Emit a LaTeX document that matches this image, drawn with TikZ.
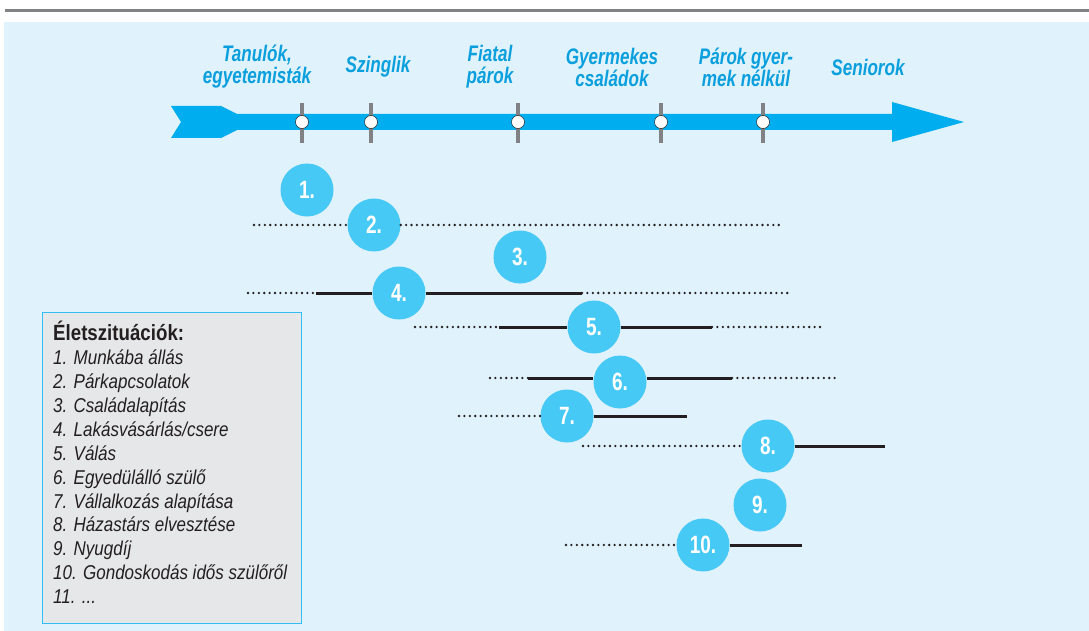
\documentclass[tikz,border=0pt]{standalone}
\usepackage{fontspec}
\usepackage{tikz}
\usetikzlibrary{positioning, calc}

\setmainfont{Liberation Sans}
\newfontfamily\condfont[FakeStretch=0.76]{Liberation Sans}
\newfontfamily\legfont[FakeStretch=0.85]{Liberation Sans}

\definecolor{bgblue}{HTML}{E0F2FC}
\definecolor{arrowblue}{HTML}{00AEEF}
\definecolor{dotblue}{HTML}{47C9F6}
\definecolor{lblblue}{HTML}{0A9FDD}
\definecolor{tickgray}{HTML}{808285}
\definecolor{boxgray}{HTML}{E6E7E8}
\definecolor{linedark}{HTML}{231F20}

\begin{document}
\begin{tikzpicture}[
  x=1pt, y=-1pt,
  phase/.style  = {font=\condfont\bfseries\itshape\fontsize{22.5}{22}\selectfont,
                   text=lblblue, align=center, inner sep=0pt},
  event/.style  = {circle, fill=dotblue, minimum size=53pt, inner sep=0pt,
                   text=white, font=\condfont\bfseries\fontsize{25}{25}\selectfont},
  tick/.style   = {draw=tickgray, line width=4pt},
  knot/.style   = {circle, draw=linedark, line width=0.5pt, fill=white,
                   minimum size=13pt, inner sep=0pt},
  maybe/.style  = {draw=linedark, line width=2.6pt, line cap=round,
                   dash pattern=on 0pt off 5.4pt},
  sure/.style   = {draw=linedark, line width=3pt},
  legbox/.style = {draw=arrowblue!80, line width=0.8pt, fill=boxgray,
                   minimum width=259pt, minimum height=311pt,
                   anchor=north west, inner sep=0pt},
]

\useasboundingbox (0,0) rectangle (1089,631);
\fill[bgblue] (4,22) rectangle (1089,631);
\draw[tickgray, line width=3pt] (5,11) -- (1089,11);

% timeline arrow
\fill[arrowblue] (171,106) -- (221,106) -- (237,114) -- (892,114) -- (892,102)
  -- (964,122) -- (892,142) -- (892,130) -- (237,130) -- (221,138)
  -- (171,138) -- (181,122) -- cycle;

\foreach \x/\name in {302/tan, 371/szi, 518/fia, 661/gye, 763/par} {
  \draw[tick] (\x,103) -- (\x,143);
  \node[knot] (k\name) at (\x,122) {};
}

\node[phase] (tanulok)  at (257,67) {Tanulók,\\egyetemisták};
\node[phase] (szinglik) at (378,67) {Szinglik};
\node[phase] (fiatal)   at (490,67) {Fiatal\\párok};
\node[phase] (gyermek)  at (612,67) {Gyermekes\\családok};
\node[phase] (parok)    at (746,67) {Párok gyer-\\mek nélkül};
\node[phase] (senior)   at (868,67) {Seniorok};

% life events
\coordinate (s2a) at (254,225); \coordinate (s2b) at (783,225);
\coordinate (s4a) at (248,293); \coordinate (s4b) at (316,293);
\coordinate (s4c) at (582,293); \coordinate (s4d) at (788,293);
\coordinate (s5a) at (415,327); \coordinate (s5b) at (499,327);
\coordinate (s5c) at (712,327); \coordinate (s5d) at (820,327);
\coordinate (s6a) at (490,378); \coordinate (s6b) at (528,378);
\coordinate (s6c) at (732,378); \coordinate (s6d) at (838,378);
\coordinate (s7a) at (459,416); \coordinate (s7b) at (687,416);
\coordinate (s8a) at (583,446); \coordinate (s8b) at (885,446);
\coordinate (s10a) at (566,545); \coordinate (s10b) at (802,545);

\node[event] (e1)  at (307,190) {1.};
\node[event] (e2)  at (374,225) {2.};
\node[event] (e3)  at (520,257) {3.};
\node[event] (e4)  at (399,293) {4.};
\node[event] (e5)  at (594,327) {5.};
\node[event] (e6)  at (620,382) {6.};
\node[event] (e7)  at (567,416) {7.};
\node[event] (e8)  at (768,446) {8.};
\node[event] (e9)  at (760,505) {9.};
\node[event] (e10) at (703,545) {10.};

\draw[maybe] (s2a) -- (e2.west);
\draw[maybe] (e2.east) -- (s2b);
\draw[maybe] (s4a) -- (s4b);
\draw[sure]  (s4b) -- (e4.west);
\draw[sure]  (e4.east) -- (s4c);
\draw[maybe] (s4c) -- (s4d);
\draw[maybe] (s5a) -- (s5b);
\draw[sure]  (s5b) -- (e5.west);
\draw[sure]  (e5.east) -- (s5c);
\draw[maybe] (s5c) -- (s5d);
\draw[maybe] (s6a) -- (s6b);
\draw[sure]  (s6b) -- (e6.west |- s6b);
\draw[sure]  (e6.east |- s6c) -- (s6c);
\draw[maybe] (s6c) -- (s6d);
\draw[maybe] (s7a) -- (e7.west);
\draw[sure]  (e7.east) -- (s7b);
\draw[maybe] (s8a) -- (e8.west);
\draw[sure]  (e8.east) -- (s8b);
\draw[maybe] (s10a) -- (e10.west);
\draw[sure]  (e10.east) -- (s10b);

% legend
\node[legbox] (legend) at (42,312) {};
\node[anchor=north west, inner sep=0pt, align=left, text=linedark,
      font=\legfont\itshape\fontsize{20}{23.9}\selectfont]
  (legtext) at ($(legend.north west)+(11,9)$)
  {{\upshape\bfseries\fontsize{22}{23.9}\selectfont Életszituációk:}\\
   1. Munkába állás\\
   2. Párkapcsolatok\\
   3. Családalapítás\\
   4. Lakásvásárlás/csere\\
   5. Válás\\
   6. Egyedülálló szülő\\
   7. Vállalkozás alapítása\\
   8. Házastárs elvesztése\\
   9. Nyugdíj\\
   10. Gondoskodás idős szülőről\\
   11. ...};

\end{tikzpicture}
\end{document}
